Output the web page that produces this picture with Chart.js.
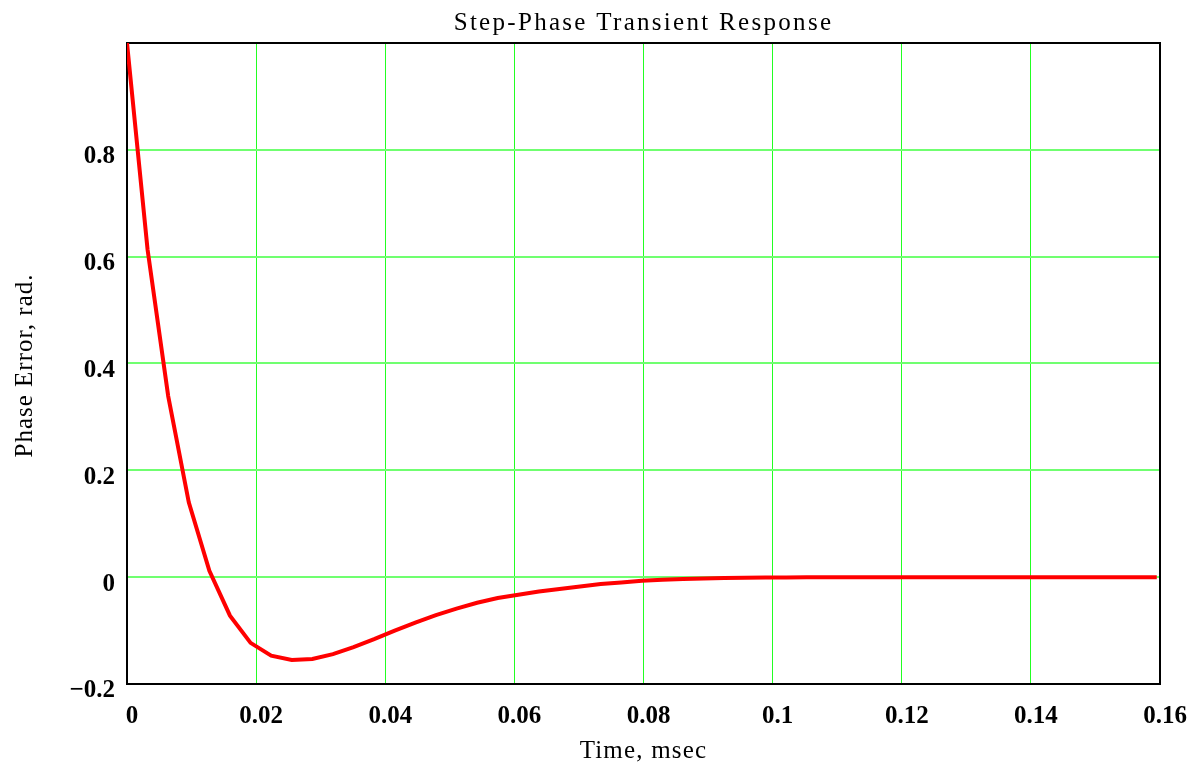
<!DOCTYPE html>
<html><head><meta charset="utf-8">
<script src="https://cdn.jsdelivr.net/npm/chart.js@4.4.1/dist/chart.umd.min.js"></script>
<style>html,body{margin:0;padding:0;background:#fff;} #wrap{width:1197px;height:764px;}</style>
</head><body><div id="wrap"><canvas id="c" width="1197" height="764"></canvas></div>
<script>
const timeMs = [0, 0.00319, 0.00638, 0.00957, 0.01276, 0.01595, 0.01914, 0.02233, 0.02552, 0.02871,
  0.0319, 0.03509, 0.03828, 0.04147, 0.04466, 0.04785, 0.05104, 0.05423, 0.05742, 0.06061,
  0.0638, 0.06699, 0.07018, 0.07337, 0.07656, 0.07975, 0.08294, 0.08613, 0.08932, 0.09251,
  0.0957, 0.09889, 0.10208, 0.10527, 0.10846, 0.11165, 0.11484, 0.11803, 0.12122, 0.12441,
  0.1276, 0.13079, 0.13398, 0.13717, 0.14036, 0.14355, 0.14674, 0.14993, 0.15312, 0.15631, 0.1595];
const phaseError = [1.0, 0.613, 0.339, 0.140, 0.012, -0.072, -0.123, -0.147, -0.155, -0.153,
  -0.144, -0.131, -0.116, -0.100, -0.085, -0.071, -0.059, -0.048, -0.039, -0.033,
  -0.027, -0.022, -0.0175, -0.013, -0.010, -0.0066, -0.005, -0.0036, -0.0024, -0.0017,
  -0.0011, -0.0007, -0.0004, -0.0002, -0.0001, 0, 0, 0, 0, 0,
  0, 0, 0, 0, 0, 0, 0, 0, 0, 0, 0];
const xTickValues = [0, 0.02, 0.04, 0.06, 0.08, 0.1, 0.12, 0.14, 0.16];
const xTickLabels = ['0', '0.02', '0.04', '0.06', '0.08', '0.1', '0.12', '0.14', '0.16'];
const yTickValues = [-0.2, 0, 0.2, 0.4, 0.6, 0.8, 1.0];
const yTickLabels = ['\u22120.2', '0', '0.2', '0.4', '0.6', '0.8', ''];
const chartTitle = 'Step-Phase Transient Response';
const xAxisTitle = 'Time, msec';
const yAxisTitle = 'Phase Error, rad.';

const SERIF = '"Liberation Serif", "Times New Roman", serif';
function labelFor(values, labels, v) {
  const k = values.findIndex(t => Math.abs(t - v) < 1e-9);
  return k >= 0 ? labels[k] : '';
}

const framePlugin = {
  id: 'frame',
  beforeDatasetsDraw(chart) {
    const a = chart.chartArea, ctx = chart.ctx;
    ctx.save();
    ctx.strokeStyle = '#000';
    ctx.lineWidth = 2;
    ctx.strokeRect(a.left, a.top, a.right - a.left, a.bottom - a.top);
    ctx.restore();
  }
};

const titlesPlugin = {
  id: 'titles',
  afterDraw(chart) {
    const a = chart.chartArea, ctx = chart.ctx;
    const cx = (a.left + a.right) / 2;
    const cy = (a.top + a.bottom) / 2;
    ctx.save();
    ctx.fillStyle = '#000';
    ctx.textAlign = 'center';
    ctx.textBaseline = 'alphabetic';
    ctx.font = '25px ' + SERIF;
    ctx.letterSpacing = '2.3px';
    ctx.fillText(chartTitle, cx, a.top - 13.5);
    ctx.letterSpacing = '1.2px';
    ctx.fillText(xAxisTitle, cx, a.bottom + 74);
    ctx.letterSpacing = '1px';
    ctx.translate(a.left - 95, cy + 2);
    ctx.rotate(-Math.PI / 2);
    ctx.fillText(yAxisTitle, 0, 0);
    ctx.restore();
  }
};

new Chart(document.getElementById('c'), {
  type: 'line',
  data: {
    datasets: [{
      data: timeMs.map((t, i) => ({ x: t, y: phaseError[i] })),
      borderColor: '#ff0000',
      borderWidth: 4,
      pointRadius: 0,
      tension: 0,
      fill: false
    }]
  },
  options: {
    responsive: false,
    animation: false,
    devicePixelRatio: 1,
    layout: { padding: { top: 43, right: 37, left: 0, bottom: 0 } },
    plugins: { legend: { display: false }, tooltip: { enabled: false }, title: { display: false } },
    scales: {
      x: {
        type: 'linear', min: 0, max: 0.16,
        afterBuildTicks: s => { s.ticks = xTickValues.map(v => ({ value: v })); },
        afterFit: s => { s.height = 80; s.paddingLeft = 0; s.paddingRight = 0; },
        ticks: {
          callback: v => labelFor(xTickValues, xTickLabels, v),
          font: { family: SERIF, size: 25, weight: 'bold' },
          color: '#000', padding: 18, labelOffset: 5, maxRotation: 0, autoSkip: false
        },
        grid: { color: '#22ff22', lineWidth: 1, drawTicks: false },
        border: { display: false }
      },
      y: {
        type: 'linear', min: -0.2, max: 1.0,
        afterBuildTicks: s => { s.ticks = yTickValues.map(v => ({ value: v })); },
        afterFit: s => { s.width = 127; s.paddingTop = 0; s.paddingBottom = 0; },
        ticks: {
          callback: v => labelFor(yTickValues, yTickLabels, v),
          font: { family: SERIF, size: 25, weight: 'bold' },
          color: '#000', padding: 12, labelOffset: 7, autoSkip: false
        },
        grid: { color: '#70ff70', lineWidth: 2, drawTicks: false },
        border: { display: false }
      }
    }
  },
  plugins: [framePlugin, titlesPlugin]
});
</script></body></html>
